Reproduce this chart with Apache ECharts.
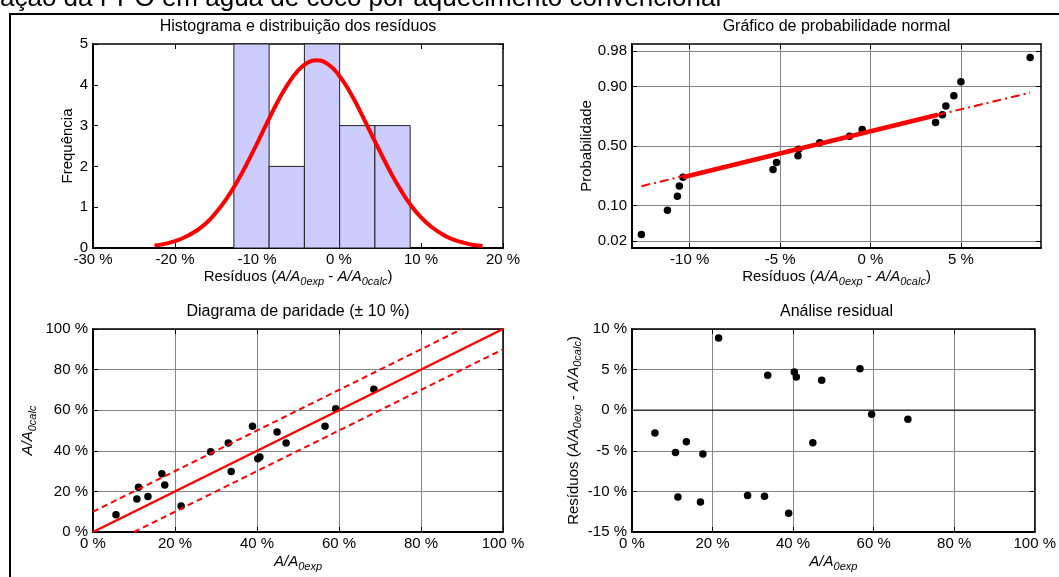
<!DOCTYPE html>
<html lang="pt">
<head>
<meta charset="UTF-8">
<title>Resíduos</title>
<script src="https://cdn.jsdelivr.net/npm/echarts@6.0.0/dist/echarts.min.js"></script>
<style>
  html, body { margin: 0; padding: 0; background: #fff; }
  #main { width: 1059px; height: 577px; }
</style>
</head>
<body>
<div id="main"></div>
<script>
// histograma dos resíduos (%)
const binEdges = [-12.82, -8.52, -4.22, 0.08, 4.38, 8.68];
const binCounts = [5, 2, 5, 3, 3];
const curveX = [-22.5, -21.25, -20, -18.75, -17.5, -16.25, -15, -13.75, -12.5, -11.25, -10, -8.75, -7.5, -6.25, -5, -3.75, -2.75,
                -1.25, 0, 1.25, 2.5, 3.75, 5, 6.25, 7.5, 8.75, 10, 11.25, 12.5, 13.75, 15, 16.25, 17.5];
const curveY = [0.06, 0.10, 0.17, 0.27, 0.41, 0.60, 0.87, 1.20, 1.60, 2.06, 2.56, 3.08, 3.58, 4.01, 4.35, 4.55, 4.60,
                4.49, 4.23, 3.85, 3.38, 2.87, 2.36, 1.87, 1.43, 1.05, 0.75, 0.52, 0.35, 0.22, 0.14, 0.08, 0.05];

// gráfico de probabilidade normal
const normRes = [-12.67, -11.23, -10.68, -10.57, -10.37, -5.39, -5.20, -4.01, -3.97, -2.81, -1.16, -0.46,
                 3.60, 3.98, 4.17, 4.61, 5.00, 8.83];
const normProb = [0.028, 0.083, 0.139, 0.194, 0.250, 0.306, 0.361, 0.417, 0.472, 0.528, 0.583, 0.639,
                  0.694, 0.750, 0.806, 0.861, 0.917, 0.972];
const fitX = [-12.67, 8.83];
const fitP = [0.193, 0.875];
const quartX = [-10.37, 3.73];
const quartP = [0.25, 0.75];
const probTicks = [0.02, 0.10, 0.50, 0.90, 0.98];
const resTicks = [-10, -5, 0, 5];

// diagrama de paridade (%)
const expVals = [5.6, 10.7, 11.1, 13.4, 16.8, 17.5, 21.5, 28.7, 33.0, 33.7, 38.9, 40.2, 40.7, 44.9, 47.1, 56.6, 59.2, 68.5];
const calcVals = [8.5, 16.2, 22.1, 17.5, 28.7, 23.1, 12.8, 39.5, 43.8, 29.8, 52.1, 36.1, 36.9, 49.2, 43.8, 52.1, 60.7, 70.3];
const idealX = [0, 100], idealY = [0, 100];
const upperX = [0, 90], upperY = [10, 100];
const lowerX = [10, 100], lowerY = [0, 90];

// análise residual (%)
const residX = [5.7, 10.8, 11.4, 13.5, 17.0, 17.6, 21.5, 28.7, 32.9, 33.7, 38.9, 40.3, 40.8, 44.9, 47.1, 56.6, 59.5, 68.5];
const residY = [-2.8, -5.2, -10.7, -3.9, -11.3, -5.4, 8.9, -10.5, -10.6, 4.3, -12.7, 4.7, 4.1, -4.0, 3.7, 5.1, -0.5, -1.1];
const zeroX = [0, 100], zeroY = [0, 0];

// escala normal (inversa da normal padrão, Acklam)
function probit(p) {
  const a = [-39.69683028665376, 220.9460984245205, -275.9285104469687, 138.3577518672690, -30.66479806614716, 2.506628277459239];
  const b = [-54.47609879822406, 161.5858368580409, -155.6989798598866, 66.80131188771972, -13.28068155288572];
  const c = [-0.007784894002430293, -0.3223964580411365, -2.400758277161838, -2.549732539343734, 4.374664141464968, 2.938163982698783];
  const d = [0.007784695709041462, 0.3224671290700398, 2.445134137142996, 3.754408661907416];
  const pl = 0.02425;
  let q, r;
  if (p < pl) {
    q = Math.sqrt(-2 * Math.log(p));
    return (((((c[0]*q+c[1])*q+c[2])*q+c[3])*q+c[4])*q+c[5]) / ((((d[0]*q+d[1])*q+d[2])*q+d[3])*q+1);
  }
  if (p > 1 - pl) {
    q = Math.sqrt(-2 * Math.log(1 - p));
    return -(((((c[0]*q+c[1])*q+c[2])*q+c[3])*q+c[4])*q+c[5]) / ((((d[0]*q+d[1])*q+d[2])*q+d[3])*q+1);
  }
  q = p - 0.5; r = q * q;
  return (((((a[0]*r+a[1])*r+a[2])*r+a[3])*r+a[4])*r+a[5])*q / (((((b[0]*r+b[1])*r+b[2])*r+b[3])*r+b[4])*r+1);
}
const zTicks = probTicks.map(probit);

const FONT = '"Liberation Sans", Arial, Helvetica, sans-serif';
const pairs = (xs, ys) => xs.map((x, i) => [x, ys[i]]);
const pct = v => v + ' %';

const rich = {
  n: { fontSize: 15, fontFamily: FONT, color: '#000' },
  i: { fontSize: 15, fontFamily: FONT, color: '#000', fontStyle: 'italic' },
  s: { fontSize: 11, fontFamily: FONT, color: '#000', fontStyle: 'italic', padding: [10, 0, 0, 0] }
};
const resName = '{n|Resíduos (}{i|A/A}{s|0exp}{n| - }{i|A/A}{s|0calc}{n|)}';

function mainAxis(o) {
  return Object.assign({
    type: 'value',
    axisLine: { show: true, onZero: false, lineStyle: { color: '#000', width: 2 } },
    axisTick: { show: true, inside: true, length: 5, lineStyle: { color: '#000', width: 1 } },
    axisLabel: { color: '#000', fontSize: 15, fontFamily: FONT, margin: 5 },
    splitLine: { show: true, lineStyle: { color: '#858585', width: 1 } },
    nameLocation: 'middle',
    nameTextStyle: { color: '#000', fontSize: 15, fontFamily: FONT, rich: rich }
  }, o);
}
function sideAxis(o) {
  return Object.assign({
    type: 'value',
    axisLine: { show: true, onZero: false, lineStyle: { color: '#000', width: 1.5 } },
    axisTick: { show: true, inside: true, length: 5, lineStyle: { color: '#000', width: 1 } },
    axisLabel: { show: false },
    splitLine: { show: false }
  }, o);
}

const grids = [
  { left: 93, top: 44, width: 410, height: 204 },
  { left: 632, top: 44, width: 409, height: 204 },
  { left: 93, top: 329, width: 410, height: 203 },
  { left: 632, top: 329, width: 409, height: 203 }
];

// eixos: índice 2*g = principal (baixo/esquerda), 2*g+1 = lado oposto (só marcas)
const xAxes = [
  mainAxis({ gridIndex: 0, min: -30, max: 20, interval: 10, splitLine: { show: false },
    axisLabel: { color: '#000', fontSize: 15, fontFamily: FONT, margin: 4, formatter: pct },
    name: resName, nameGap: 18 }),
  sideAxis({ gridIndex: 0, position: 'top', min: -30, max: 20, interval: 10 }),
  mainAxis({ gridIndex: 1, min: -13.19, max: 9.43,
    axisTick: { show: true, inside: true, length: 5, customValues: resTicks, lineStyle: { color: '#000' } },
    axisLabel: { color: '#000', fontSize: 15, fontFamily: FONT, margin: 4, customValues: resTicks, formatter: pct },
    name: resName, nameGap: 18 }),
  sideAxis({ gridIndex: 1, position: 'top', min: -13.19, max: 9.43,
    axisTick: { show: true, inside: true, length: 5, customValues: resTicks, lineStyle: { color: '#000' } } }),
  mainAxis({ gridIndex: 2, min: 0, max: 100, interval: 20,
    axisLabel: { color: '#000', fontSize: 15, fontFamily: FONT, margin: 4, formatter: pct },
    name: '{i|A/A}{s|0exp}', nameGap: 19 }),
  sideAxis({ gridIndex: 2, position: 'top', min: 0, max: 100, interval: 20 }),
  mainAxis({ gridIndex: 3, min: 0, max: 100, interval: 20,
    axisLabel: { color: '#000', fontSize: 15, fontFamily: FONT, margin: 4, formatter: pct },
    name: '{i|A/A}{s|0exp}', nameGap: 19 }),
  sideAxis({ gridIndex: 3, position: 'top', min: 0, max: 100, interval: 20 })
];

const yAxes = [
  mainAxis({ gridIndex: 0, min: 0, max: 5, interval: 1, splitLine: { show: false },
    name: 'Frequência', nameGap: 17 }),
  sideAxis({ gridIndex: 0, position: 'right', min: 0, max: 5, interval: 1 }),
  mainAxis({ gridIndex: 1, min: -2.2, max: 2.2,
    axisTick: { show: true, inside: true, length: 5, customValues: zTicks, lineStyle: { color: '#000' } },
    axisLabel: { color: '#000', fontSize: 15, fontFamily: FONT, margin: 5, customValues: zTicks,
      formatter: v => {
        const k = zTicks.findIndex(z => Math.abs(z - v) < 1e-6);
        return k < 0 ? '' : probTicks[k].toFixed(2);
      } },
    name: 'Probabilidade', nameGap: 38 }),
  sideAxis({ gridIndex: 1, position: 'right', min: -2.2, max: 2.2,
    axisTick: { show: true, inside: true, length: 5, customValues: zTicks, lineStyle: { color: '#000' } } }),
  mainAxis({ gridIndex: 2, min: 0, max: 100, interval: 20,
    axisLabel: { color: '#000', fontSize: 15, fontFamily: FONT, margin: 5, formatter: pct },
    name: '{i|A/A}{s|0calc}', nameGap: 55 }),
  sideAxis({ gridIndex: 2, position: 'right', min: 0, max: 100, interval: 20 }),
  mainAxis({ gridIndex: 3, min: -15, max: 10, interval: 5,
    axisLabel: { color: '#000', fontSize: 15, fontFamily: FONT, margin: 5, formatter: pct },
    name: resName, nameGap: 48 }),
  sideAxis({ gridIndex: 3, position: 'right', min: -15, max: 10, interval: 5 })
];

const dot = { symbol: 'circle', symbolSize: 7.5, itemStyle: { color: '#000', opacity: 1 } };
const ax = g => ({ xAxisIndex: 2 * g, yAxisIndex: 2 * g });

const series = [
  Object.assign({
    type: 'custom',
    data: binCounts.map((c, i) => [binEdges[i], binEdges[i + 1], c]),
    encode: { x: [0, 1], y: 2 },
    renderItem: function (params, api) {
      const p0 = api.coord([api.value(0), api.value(2)]);
      const p1 = api.coord([api.value(1), 0]);
      return {
        type: 'rect',
        shape: { x: p0[0], y: p0[1], width: p1[0] - p0[0], height: p1[1] - p0[1] },
        style: { fill: '#ccccff', stroke: '#222222', lineWidth: 1 }
      };
    }
  }, ax(0)),
  Object.assign({
    type: 'line', data: pairs(curveX, curveY),
    smooth: true, showSymbol: false, lineStyle: { color: '#ff0000', width: 4 }
  }, ax(0)),
  Object.assign({
    type: 'line', data: pairs(fitX, fitP.map(probit)),
    showSymbol: false, lineStyle: { color: '#ff0000', width: 2, type: [9, 4, 2, 4] }
  }, ax(1)),
  Object.assign({
    type: 'line', data: pairs(quartX, quartP.map(probit)),
    showSymbol: false, lineStyle: { color: '#ff0000', width: 4.5 }
  }, ax(1)),
  Object.assign({ type: 'scatter', data: pairs(normRes, normProb.map(probit)) }, dot, ax(1)),
  Object.assign({
    type: 'line', data: pairs(upperX, upperY),
    showSymbol: false, lineStyle: { color: '#ff0000', width: 2, type: [6, 4] }
  }, ax(2)),
  Object.assign({
    type: 'line', data: pairs(lowerX, lowerY),
    showSymbol: false, lineStyle: { color: '#ff0000', width: 2, type: [6, 4] }
  }, ax(2)),
  Object.assign({
    type: 'line', data: pairs(idealX, idealY),
    showSymbol: false, lineStyle: { color: '#ff0000', width: 2.5 }
  }, ax(2)),
  Object.assign({ type: 'scatter', data: pairs(expVals, calcVals) }, dot, ax(2)),
  Object.assign({
    type: 'line', data: pairs(zeroX, zeroY),
    showSymbol: false, lineStyle: { color: '#333333', width: 1.5 }
  }, ax(3)),
  Object.assign({ type: 'scatter', data: pairs(residX, residY) }, dot, ax(3))
];

const titleStyle = t => ({ text: t, fontSize: 16, fontFamily: FONT, fill: '#000', align: 'center', verticalAlign: 'middle' });

const chart = echarts.init(document.getElementById('main'));
chart.setOption({
  animation: false,
  backgroundColor: '#fff',
  grid: grids,
  xAxis: xAxes,
  yAxis: yAxes,
  series: series,
  graphic: [
    { type: 'rect', silent: true, shape: { x: 10, y: 14, width: 1200, height: 800 },
      style: { fill: 'none', stroke: '#000', lineWidth: 2 } },
    { type: 'text', silent: true, x: 0, y: -1,
      style: { text: 'ação da PPO em água de coco por aquecimento convencional', fontSize: 26, fontFamily: FONT,
               fill: '#000', align: 'left', verticalAlign: 'middle' } },
    { type: 'text', silent: true, x: 298, y: 27, style: titleStyle('Histograma e distribuição dos resíduos') },
    { type: 'text', silent: true, x: 836.5, y: 27, style: titleStyle('Gráfico de probabilidade normal') },
    { type: 'text', silent: true, x: 298, y: 312, style: titleStyle('Diagrama de paridade (± 10 %)') },
    { type: 'text', silent: true, x: 836.5, y: 312, style: titleStyle('Análise residual') }
  ]
});
</script>
</body>
</html>
